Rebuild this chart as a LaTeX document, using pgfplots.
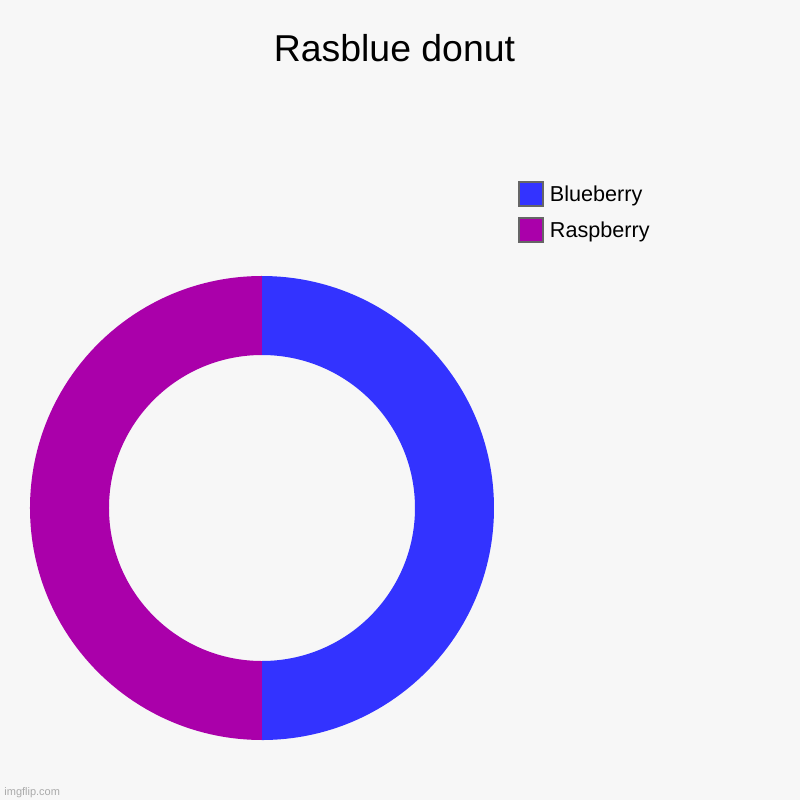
\documentclass[border=0pt]{standalone}
\usepackage{pgfplots}
\usepackage{pgfplotstable}
\pgfplotsset{compat=1.18}
\usepackage{fontspec}
\setmainfont{Liberation Sans}

\definecolor{bgcol}{HTML}{F7F7F7}
\definecolor{blueberry}{HTML}{3333FF}
\definecolor{raspberry}{HTML}{AA00AA}
\definecolor{legborder}{HTML}{666666}
\definecolor{markgray}{HTML}{AAAAAA}

% slices, clockwise from 12 o'clock
\pgfplotstableread{
name      value color
Blueberry 50    blueberry
Raspberry 50    raspberry
}\donutdata

% angles of the slices, worked out from the values
\pgfplotstablegetrowsof{\donutdata}
\pgfmathtruncatemacro\lastrow{\pgfplotsretval-1}
\def\total{0}
\pgfplotsforeachungrouped \i in {0,...,\lastrow}{%
	\pgfplotstablegetelem{\i}{value}\of\donutdata
	\pgfmathsetmacro\total{\total+\pgfplotsretval}%
}
\def\angA{90}
\pgfplotsforeachungrouped \i in {0,...,\lastrow}{%
	\pgfplotstablegetelem{\i}{value}\of\donutdata
	\pgfmathsetmacro\angB{\angA-360*(\pgfplotsretval/\total)}%
	\expandafter\let\csname sliceS\i\endcsname\angA
	\expandafter\let\csname sliceE\i\endcsname\angB
	\pgfplotstablegetelem{\i}{color}\of\donutdata
	\expandafter\edef\csname sliceC\i\endcsname{\pgfplotsretval}%
	\let\angA\angB
}

\begin{document}
\begin{tikzpicture}
	\fill[bgcol] (0,0) rectangle (400bp,400bp);
	\begin{axis}[
	at={(0,0)}, anchor=south west,
	scale only axis,
	width=400bp, height=400bp,
	xmin=0, xmax=800,
	ymin=0, ymax=800,
	hide axis,
	clip=false,
	legend style={
		at={(0.64,0.779)}, anchor=north west,
		draw=none, fill=none,
		font=\fontsize{10.8bp}{12bp}\selectfont,
		row sep=4.5bp,
		/tikz/every odd column/.append style={column sep=1bp},
	},
	legend cell align=left,
	legend image code/.code={
		\draw[#1] (0bp,-5.5bp) rectangle (12bp,6.5bp);
	},
	]
	\pgfplotsextra{
		\pgfplotsforeachungrouped \i in {0,...,\lastrow}{%
			\edef\sa{\csname sliceS\i\endcsname}%
			\edef\sb{\csname sliceE\i\endcsname}%
			\edef\sc{\csname sliceC\i\endcsname}%
			\pgfmathsetmacro\oxa{262+232*cos(\sa)}%
			\pgfmathsetmacro\oya{292+232*sin(\sa)}%
			\pgfmathsetmacro\ixb{262+153*cos(\sb)}%
			\pgfmathsetmacro\iyb{292+153*sin(\sb)}%
			\fill[fill=\sc]
				(axis cs:\oxa,\oya)
				arc[start angle=\sa, end angle=\sb, radius=116bp]
				-- (axis cs:\ixb,\iyb)
				arc[start angle=\sb, end angle=\sa, radius=76.5bp]
				-- cycle;
		}
	}
	\addlegendimage{fill=blueberry, draw=legborder, line width=0.8bp}
	\addlegendentry{Blueberry}
	\addlegendimage{fill=raspberry, draw=legborder, line width=0.8bp}
	\addlegendentry{Raspberry}
	\node[anchor=base, font=\fontsize{18.7bp}{22bp}\selectfont]
		at (axis cs:394.5,738.3) {Rasblue donut};
	\node[anchor=base west, inner sep=0pt, text=markgray,
		font=\fontsize{5.5bp}{6.5bp}\selectfont]
		at (axis cs:4,5) {imgflip.com};
	\end{axis}
\end{tikzpicture}
\end{document}
